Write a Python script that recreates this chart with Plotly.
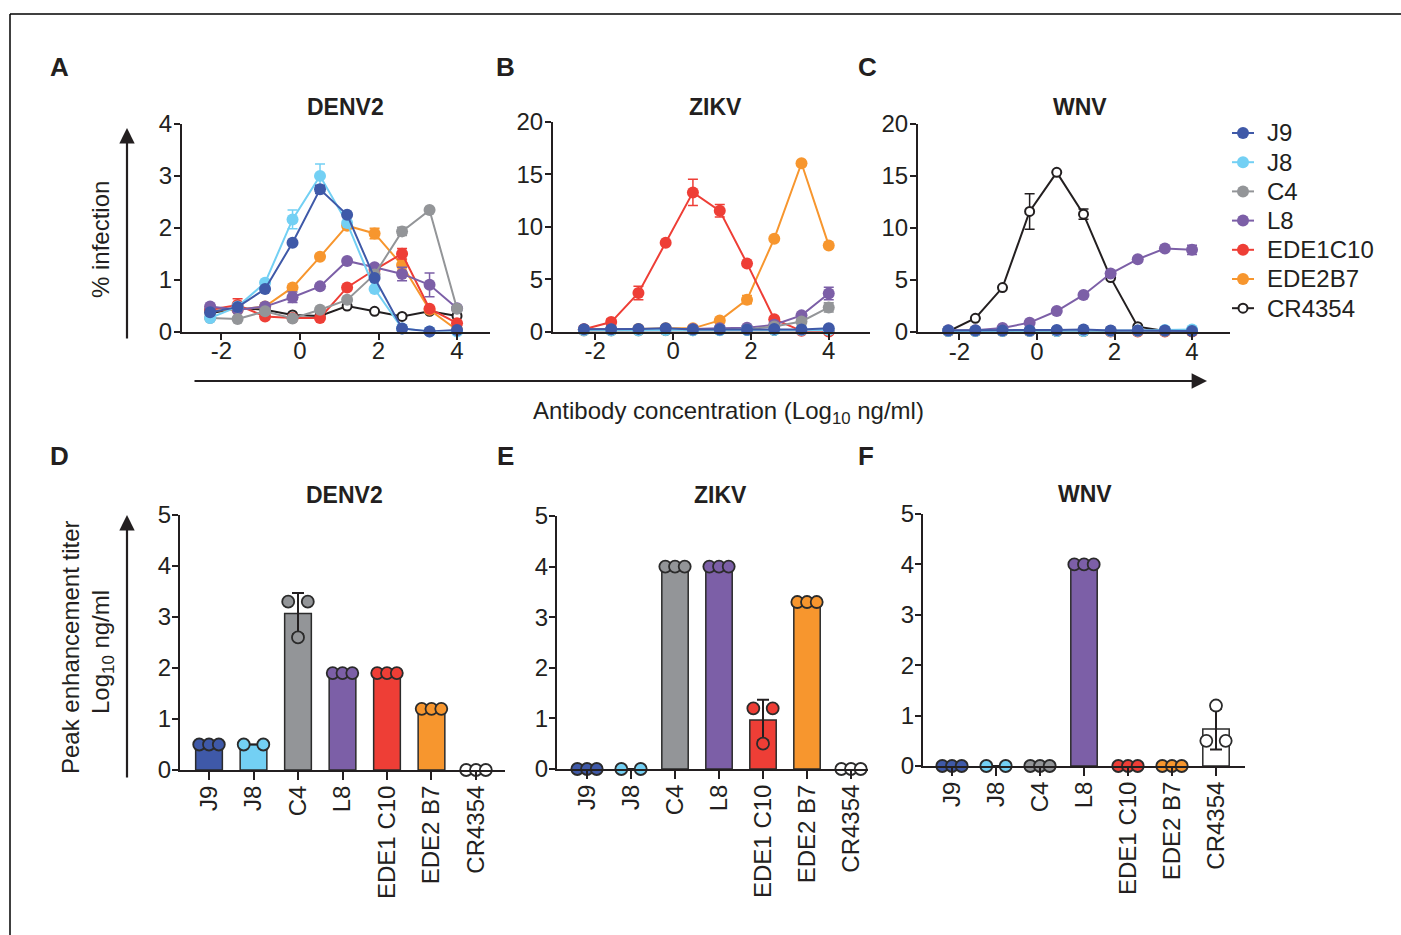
import numpy as np
import plotly.graph_objects as go

W, H = 1401, 935

antibodies = ["J9", "J8", "C4", "L8", "EDE1C10", "EDE2B7", "CR4354"]
bar_labels = ["J9", "J8", "C4", "L8", "EDE1 C10", "EDE2 B7", "CR4354"]
series_colors = ["#3F59A8", "#73D0F4", "#939598", "#7C5FA7", "#EE3E36", "#F7962E", "#231F20"]
bar_fills = ["#3F59A8", "#73D0F4", "#939598", "#7C5FA7", "#EE3E36", "#F7962E", "#FFFFFF"]

# Antibody concentration (log10 ng/ml)
log_conc = [-2.29, -1.59, -0.89, -0.19, 0.51, 1.20, 1.90, 2.60, 3.30, 4.00]

# % infection, DENV2
denv2_infection = {
    "J9": [0.37, 0.47, 0.82, 1.71, 2.74, 2.25, 1.03, 0.06, 0.00, 0.03],
    "J8": [0.26, 0.48, 0.94, 2.16, 3.00, 2.09, 0.82, 0.06, 0.00, 0.00],
    "C4": [0.26, 0.24, 0.39, 0.25, 0.42, 0.61, 1.10, 1.93, 2.34, 0.44],
    "L8": [0.48, 0.42, 0.48, 0.66, 0.87, 1.36, 1.24, 1.11, 0.90, 0.45],
    "EDE1C10": [0.42, 0.51, 0.29, 0.26, 0.26, 0.85, 1.19, 1.50, 0.44, 0.16],
    "EDE2B7": [0.40, 0.42, 0.48, 0.85, 1.44, 2.04, 1.89, 1.28, 0.42, 0.03],
    "CR4354": [0.35, 0.45, 0.42, 0.32, 0.30, 0.49, 0.39, 0.29, 0.39, 0.30],
}
denv2_sd = {
    "J9": [0, 0, 0, 0, 0.08, 0, 0, 0, 0, 0],
    "J8": [0, 0, 0, 0.18, 0.23, 0, 0, 0, 0, 0],
    "C4": [0, 0, 0, 0, 0, 0, 0, 0.08, 0, 0],
    "L8": [0, 0, 0, 0.1, 0, 0, 0, 0.13, 0.23, 0],
    "EDE1C10": [0, 0.12, 0, 0, 0, 0, 0, 0.1, 0, 0],
    "EDE2B7": [0, 0, 0, 0, 0, 0, 0.1, 0.1, 0, 0],
    "CR4354": [0, 0, 0, 0, 0, 0, 0, 0, 0, 0],
}

# % infection, ZIKV
zikv_infection = {
    "J9": [0.22, 0.22, 0.25, 0.30, 0.20, 0.20, 0.20, 0.25, 0.20, 0.30],
    "J8": [0.15, 0.12, 0.12, 0.15, 0.12, 0.12, 0.15, 0.15, 0.15, 0.15],
    "C4": [0.10, 0.10, 0.10, 0.12, 0.12, 0.15, 0.20, 0.48, 0.96, 2.30],
    "L8": [0.20, 0.20, 0.20, 0.25, 0.25, 0.30, 0.35, 0.64, 1.54, 3.62],
    "EDE1C10": [0.22, 0.90, 3.68, 8.48, 13.28, 11.52, 6.50, 1.18, 0.06, 0.00],
    "EDE2B7": [0.20, 0.20, 0.25, 0.30, 0.30, 1.06, 3.04, 8.86, 16.06, 8.22],
    "CR4354": [0.10, 0.10, 0.10, 0.10, 0.10, 0.10, 0.10, 0.10, 0.10, 0.10],
}
zikv_sd = {
    "J9": [0, 0, 0, 0, 0, 0, 0, 0, 0, 0],
    "J8": [0, 0, 0, 0, 0, 0, 0, 0, 0, 0],
    "C4": [0, 0, 0, 0, 0, 0, 0, 0, 0, 0.45],
    "L8": [0, 0, 0, 0, 0, 0, 0, 0, 0, 0.6],
    "EDE1C10": [0, 0.3, 0.65, 0, 1.25, 0.6, 0, 0, 0, 0],
    "EDE2B7": [0, 0, 0, 0, 0, 0, 0.4, 0, 0, 0],
    "CR4354": [0, 0, 0, 0, 0, 0, 0, 0, 0, 0],
}

# % infection, WNV
wnv_infection = {
    "J9": [0.15, 0.15, 0.15, 0.15, 0.20, 0.25, 0.15, 0.15, 0.15, 0.10],
    "J8": [0.10, 0.10, 0.10, 0.10, 0.10, 0.10, 0.10, 0.15, 0.20, 0.25],
    "C4": [0.10, 0.10, 0.10, 0.10, 0.10, 0.10, 0.10, 0.10, 0.10, 0.10],
    "L8": [0.16, 0.16, 0.39, 0.90, 2.02, 3.56, 5.62, 7.00, 8.03, 7.90],
    "EDE1C10": [0.10, 0.10, 0.10, 0.10, 0.10, 0.10, 0.05, 0.05, 0.05, 0.05],
    "EDE2B7": [0.10, 0.10, 0.10, 0.10, 0.10, 0.10, 0.10, 0.10, 0.10, 0.10],
    "CR4354": [0.05, 1.32, 4.27, 11.59, 15.35, 11.33, 5.23, 0.51, 0.10, 0.03],
}
wnv_sd = {
    "J9": [0, 0, 0, 0, 0, 0, 0, 0, 0, 0],
    "J8": [0, 0, 0, 0, 0, 0, 0, 0, 0, 0],
    "C4": [0, 0, 0, 0, 0, 0, 0, 0, 0, 0],
    "L8": [0, 0, 0, 0, 0, 0, 0, 0, 0, 0.45],
    "EDE1C10": [0, 0, 0, 0, 0, 0, 0, 0, 0, 0],
    "EDE2B7": [0, 0, 0, 0, 0, 0, 0, 0, 0, 0],
    "CR4354": [0, 0, 0, 1.7, 0, 0.5, 0, 0, 0, 0],
}

# Peak enhancement titer (log10 ng/ml), replicates
denv2_peak = {"J9": [0.5, 0.5, 0.5], "J8": [0.5, 0.5], "C4": [3.3, 2.6, 3.3],
              "L8": [1.9, 1.9, 1.9], "EDE1C10": [1.9, 1.9, 1.9], "EDE2B7": [1.2, 1.2, 1.2],
              "CR4354": [0.0, 0.0, 0.0]}
zikv_peak = {"J9": [0.0, 0.0, 0.0], "J8": [0.0, 0.0], "C4": [4.0, 4.0, 4.0],
             "L8": [4.0, 4.0, 4.0], "EDE1C10": [1.2, 0.5, 1.2], "EDE2B7": [3.3, 3.3, 3.3],
             "CR4354": [0.0, 0.0, 0.0]}
wnv_peak = {"J9": [0.0, 0.0, 0.0], "J8": [0.0, 0.0], "C4": [0.0, 0.0, 0.0],
            "L8": [4.0, 4.0, 4.0], "EDE1C10": [0.0, 0.0, 0.0], "EDE2B7": [0.0, 0.0, 0.0],
            "CR4354": [0.5, 1.2, 0.5]}

INK = "#231F20"
FONT = "Liberation Sans, Arial, sans-serif"
MS = 12  # marker diameter

fig = go.Figure()

# ---------- line panels ----------
line_panels = [(denv2_infection, denv2_sd, "x", "y"),
               (zikv_infection, zikv_sd, "x2", "y2"),
               (wnv_infection, wnv_sd, "x3", "y3")]
for pi, (vals, sds, xa, ya) in enumerate(line_panels):
    for k in reversed(range(len(antibodies))):
        ab = antibodies[k]
        col = series_colors[k]
        is_open = ab == "CR4354"
        fig.add_trace(go.Scatter(
            x=log_conc, y=vals[ab], xaxis=xa, yaxis=ya,
            mode="lines+markers", name=ab, showlegend=False,
            line=dict(color=col, width=2),
            marker=dict(size=9 if is_open else MS, symbol="circle",
                        color="white" if is_open else col,
                        line=dict(color=col, width=2 if is_open else 0)),
            error_y=dict(type="data", array=sds[ab], visible=True, color=col,
                         thickness=1.5, width=5),
            cliponaxis=False,
        ))

# ---------- bar panels ----------
def spread_offsets(reps, step=0.22):
    offs = []
    for i, v in enumerate(reps):
        same = [j for j, w in enumerate(reps) if w == v]
        n = len(same)
        r = same.index(i)
        if n == 1:
            offs.append(0.0)
        elif n == 2:
            offs.append(-step if r == 0 else step)
        else:
            offs.append((r - (n - 1) / 2) * step)
    return offs

bar_panels = [(denv2_peak, "x4", "y4"), (zikv_peak, "x5", "y5"), (wnv_peak, "x6", "y6")]
for peaks, xa, ya in bar_panels:
    pos = list(range(len(antibodies)))
    means = [float(np.mean(peaks[a])) for a in antibodies]
    sdev = [float(np.std(peaks[a], ddof=1)) for a in antibodies]
    fig.add_trace(go.Bar(
        x=pos, y=means, xaxis=xa, yaxis=ya, width=0.6, showlegend=False,
        marker=dict(color=bar_fills, line=dict(color="#2B2B2B", width=1.5)),
        error_y=dict(type="data", array=sdev, visible=True, color=INK, thickness=2, width=6),
    ))
    for k, ab in enumerate(antibodies):
        reps = peaks[ab]
        offs = spread_offsets(reps)
        is_open = ab == "CR4354"
        fig.add_trace(go.Scatter(
            x=[k + o for o in offs], y=reps, xaxis=xa, yaxis=ya, mode="markers",
            showlegend=False, cliponaxis=False,
            marker=dict(size=MS, color="white" if is_open else series_colors[k],
                        line=dict(color="#2B2B2B", width=1.8)),
        ))

# ---------- legend (drawn on a hidden pixel-unit axis) ----------
LEG_X0, LEG_X1, LEG_Y0, LEG_DY = 1232, 1254, 133, 29.2
for k, ab in enumerate(antibodies):
    yk = LEG_Y0 + LEG_DY * k
    col = series_colors[k]
    is_open = ab == "CR4354"
    fig.add_trace(go.Scatter(
        x=[LEG_X0, LEG_X1], y=[yk, yk], xaxis="x7", yaxis="y7", mode="lines",
        line=dict(color=col, width=2), showlegend=False, hoverinfo="skip"))
    fig.add_trace(go.Scatter(
        x=[(LEG_X0 + LEG_X1) / 2], y=[yk], xaxis="x7", yaxis="y7", mode="markers",
        marker=dict(size=9 if is_open else MS, color="white" if is_open else col,
                    line=dict(color=col, width=2 if is_open else 0)),
        showlegend=False, hoverinfo="skip", cliponaxis=False))

# ---------- axes ----------
def pxx(x):
    return x / W

def pxy(y):
    return 1 - y / H

tickfont = dict(family=FONT, size=24, color=INK)
common = dict(showline=True, linecolor=INK, linewidth=2, ticks="outside", ticklen=6,
              tickwidth=2, tickcolor=INK, showgrid=False, zeroline=False,
              tickfont=tickfont, fixedrange=True, automargin=False)

line_frames = [  # (x0, x1, y_top, y_bottom, xrange, ymax, ytickstep)
    (182, 490, 124, 331.5, [-3.006, 4.84], 4, 1),
    (553, 870, 122, 331.5, [-3.085, 5.06], 20, 5),
    (918, 1230, 124, 332, [-3.07, 4.98], 20, 5),
]
bar_frames = [
    (180, 505, 515, 770, [-0.652, 6.652]),
    (557, 868, 516, 769, [-0.682, 6.386]),
    (923, 1245, 514, 766, [-0.659, 6.659]),
]

layout_axes = {}
for i, (x0, x1, yt, yb, xr, ymax, step) in enumerate(line_frames):
    n = "" if i == 0 else str(i + 1)
    layout_axes["xaxis" + n] = dict(common, domain=[pxx(x0), pxx(x1)], range=xr,
                                    anchor="y" + n, tickvals=[-2, 0, 2, 4],
                                    ticktext=["-2", "0", "2", "4"], ticklabelstandoff=-9)
    layout_axes["yaxis" + n] = dict(common, domain=[pxy(yb), pxy(yt)], range=[0, ymax],
                                    anchor="x" + n, tickvals=list(range(0, ymax + 1, step)),
                                    ticklabelstandoff=-3)
for i, (x0, x1, yt, yb, xr) in enumerate(bar_frames):
    n = str(i + 4)
    layout_axes["xaxis" + n] = dict(common, domain=[pxx(x0), pxx(x1)], range=xr,
                                    anchor="y" + n, tickvals=list(range(len(bar_labels))),
                                    ticktext=bar_labels, tickangle=-90, ticklen=8,
                                    ticklabelstandoff=-4)
    layout_axes["yaxis" + n] = dict(common, domain=[pxy(yb), pxy(yt)], range=[0, 5],
                                    anchor="x" + n, tickvals=[0, 1, 2, 3, 4, 5],
                                    ticklabelstandoff=-4)
layout_axes["xaxis7"] = dict(domain=[pxx(1225), pxx(1261)], range=[1225, 1261], visible=False,
                             fixedrange=True, automargin=False)
layout_axes["yaxis7"] = dict(domain=[pxy(330), pxy(110)], range=[330, 110], visible=False,
                             fixedrange=True, automargin=False, anchor="x7")

# ---------- annotations ----------
ann = []
def text(x, y, s, size=24, angle=0, xanchor="center"):
    ann.append(dict(x=pxx(x), y=pxy(y), xref="paper", yref="paper", text=s,
                    showarrow=False, textangle=angle, xanchor=xanchor, yanchor="middle",
                    font=dict(family=FONT, size=size, color=INK)))

for k, ab in enumerate(antibodies):
    text(1265, LEG_Y0 + LEG_DY * k, ab, xanchor="left")

for lbl, x, y in [("A", 60, 67), ("B", 505, 67), ("C", 867, 67),
                  ("D", 60, 456), ("E", 505, 456), ("F", 866, 456)]:
    text(x, y, "<b>%s</b>" % lbl, size=26)
for t, x, y in [("DENV2", 345, 107), ("ZIKV", 715, 107), ("WNV", 1080, 107),
                ("DENV2", 344, 495), ("ZIKV", 720, 495), ("WNV", 1085, 494)]:
    text(x, y, "<b>%s</b>" % t, size=23)

text(100, 240, "% infection", angle=-90)
text(70, 647, "Peak enhancement titer", angle=-90)
text(102, 652, "Log<sub>10</sub> ng/ml", angle=-90)
text(728, 412, "Antibody concentration (Log<sub>10</sub> ng/ml)")

def arrow(xh, yh, xt, yt):
    ann.append(dict(x=pxx(xh), y=pxy(yh), xref="paper", yref="paper",
                    ax=xt - xh, ay=yt - yh, axref="pixel", ayref="pixel",
                    text="", showarrow=True, arrowhead=2, arrowsize=1.4,
                    arrowwidth=2.2, arrowcolor=INK))

arrow(127, 128, 127, 340)
arrow(127, 515, 127, 779)
arrow(1207, 381, 193, 381)

shapes = [
    dict(type="line", xref="paper", yref="paper", x0=pxx(10), x1=pxx(1401),
         y0=pxy(14), y1=pxy(14), line=dict(color="black", width=1.5)),
    dict(type="line", xref="paper", yref="paper", x0=pxx(10), x1=pxx(10),
         y0=pxy(14), y1=0, line=dict(color="black", width=1.5)),
]

fig.update_layout(
    width=W, height=H, margin=dict(l=0, r=0, t=0, b=0, autoexpand=False),
    paper_bgcolor="white", plot_bgcolor="white",
    font=dict(family=FONT, size=24, color=INK),
    showlegend=False,
    annotations=ann, shapes=shapes, bargap=0.4,
    **layout_axes,
)

fig.write_html("out.html")
